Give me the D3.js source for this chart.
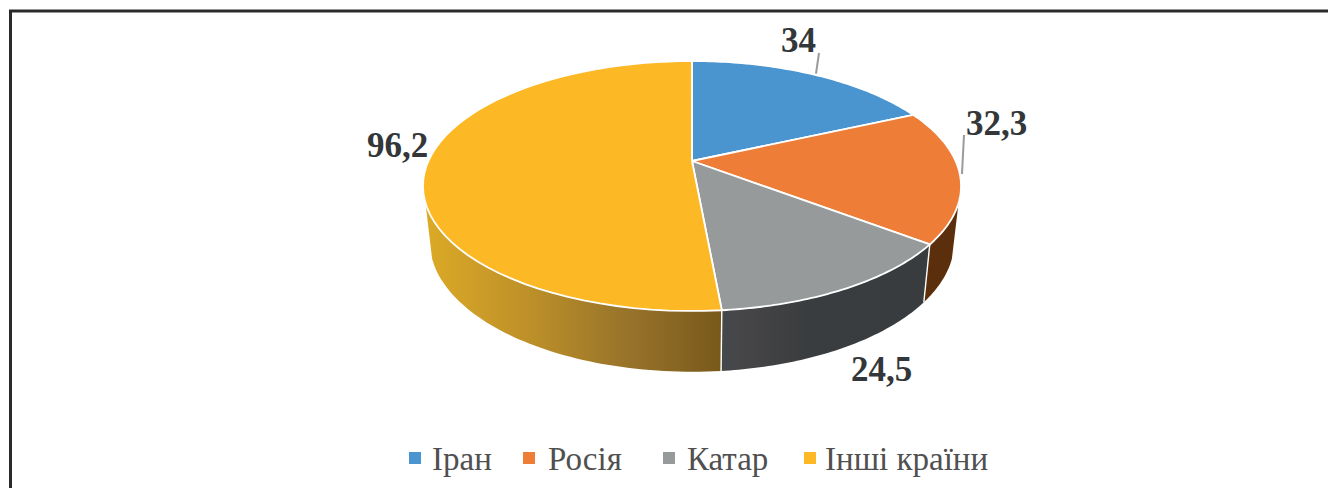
<!DOCTYPE html>
<html><head><meta charset="utf-8">
<script src="https://cdn.jsdelivr.net/npm/d3@7/dist/d3.min.js"></script>
<style>html,body{margin:0;background:#fff}svg{display:block}text{font-family:"Liberation Serif",serif}</style>
</head><body><svg id="c" width="1328" height="488"></svg>
<script>
const categories = ["Іран","Росія","Катар","Інші країни"];
const values = [34,32.3,24.5,96.2];
const valueLabels = ["34","32,3","24,5","96,2"];
const topColors = ["#4a94d0","#ed7d37","#969a9b","#fdb925"];
const sideColors = ["#2c5a80","#5b2e0c","url(#gDark)","url(#gYellow)"];

const svg = d3.select("#c");
const W=1328;
const cx=692, cy=161, a=120, b=263.6, k=-0.2;
// perspective projection of unit circle (angle clockwise from 12 o'clock)
const topPt = t => { const X=Math.sin(t), Y=-Math.cos(t), d=1+k*Y; return [cx+b*X/d, cy+a*Y/d]; };
const botPt = t => { const [x,y]=topPt(t); return [cx+(x-cx)*0.975, y+54+(y-cy)*0.045]; };

const defs = svg.append("defs");
const grad=(id,x1,x2,stops)=>{const g=defs.append("linearGradient").attr("id",id).attr("gradientUnits","userSpaceOnUse")
  .attr("x1",x1).attr("x2",x2).attr("y1",0).attr("y2",0);
  stops.forEach(([o,c])=>g.append("stop").attr("offset",o).attr("stop-color",c));};
grad("gYellow",425,721,[[0,"#dcaa26"],[0.35,"#bd9029"],[0.7,"#96722a"],[1,"#79591b"]]);
grad("gDark",721,929,[[0,"#45494c"],[0.15,"#454446"],[0.4,"#3a3d3f"],[1,"#383c3e"]]);

// frame
svg.append("path").attr("d",`M10.5,488V11H${W}`).attr("fill","none").attr("stroke","#2a2a2a").attr("stroke-width",3);

const arcs = d3.pie().sort(null).startAngle(0).endAngle(2*Math.PI)(values);
const line = d3.line();
const samples=(s,e)=>d3.range(0,61).map(i=>s+(e-s)*i/60);

const g=svg.append("g");
// visible rim of the wall
const lo=Math.PI*0.606, hi=Math.PI*1.394;
const sides=arcs.map((d,i)=>({i,s:Math.max(d.startAngle,lo),e:Math.min(d.endAngle,hi)})).filter(d=>d.e>d.s);
g.selectAll("path.side").data(sides).join("path").attr("class","side")
  .attr("d",d=>{const ts=samples(d.s,d.e);
    return line(ts.map(topPt).concat(ts.slice().reverse().map(botPt)))+"Z";})
  .attr("fill",d=>sideColors[d.i]);
// seams on the side wall
g.selectAll("path.seam").data(arcs.slice(1,3)).join("path").attr("class","seam")
  .attr("d",d=>line([topPt(d.endAngle),botPt(d.endAngle)]))
  .attr("stroke","#fff").attr("stroke-width",1.4).attr("fill","none");
// top face
g.selectAll("path.top").data(arcs).join("path").attr("class","top")
  .attr("d",d=>line([[cx,cy]].concat(samples(d.startAngle,d.endAngle).map(topPt)))+"Z")
  .attr("fill",(d,i)=>topColors[i]).attr("stroke","#fff").attr("stroke-width",1.8).attr("stroke-linejoin","round");

// labels
const labelPos=[[781,52],[966,135],[851,381],[367,157]];
const leaderEnd=[[819,53],[964,135]];
const midPt=d=>topPt((d.startAngle+d.endAngle)/2);
leaderEnd.forEach((end,i)=>{const p=midPt(arcs[i]);
  svg.append("path").attr("d",line([[p[0]+2,p[1]-1],end])).attr("stroke","#9a9a9a").attr("stroke-width",2).attr("fill","none");});
svg.selectAll("text.val").data(valueLabels).join("text").attr("class","val")
  .attr("x",(d,i)=>labelPos[i][0]).attr("y",(d,i)=>labelPos[i][1])
  .attr("font-size",35).attr("font-weight","bold").attr("fill","#333739").text(d=>d);

// legend
const legendX=[409,523,663,804], legendTextX=[432,548,687,825];
const lg=svg.append("g");
lg.selectAll("rect").data(categories).join("rect")
  .attr("x",(d,i)=>legendX[i]).attr("y",452).attr("width",12).attr("height",12).attr("fill",(d,i)=>topColors[i]);
lg.selectAll("text").data(categories).join("text")
  .attr("x",(d,i)=>legendTextX[i]).attr("y",470).attr("font-size",33).attr("fill","#505050").text(d=>d);
</script></body></html>
